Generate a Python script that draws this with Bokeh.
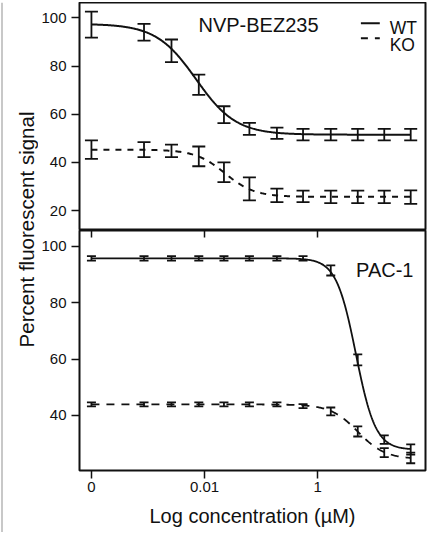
import math
import numpy as np
from bokeh.plotting import figure
from bokeh.models import (Range1d, FixedTicker, LinearAxis, Whisker, TeeHead,
                          ColumnDataSource, Label, Span, Arrow)
from bokeh.layouts import row, column
from bokeh.embed import file_html
from bokeh.resources import INLINE

# ---------------- data ----------------
conc_uM = [0, 0.00085, 0.0026, 0.0079, 0.022, 0.062, 0.19, 0.55, 1.7, 5.1, 15, 44]
zero_dose_position = 1e-4            # where the "0" dose is drawn on the log axis
x_tick_values = [1e-4, 1e-2, 1]
x_tick_labels = ["0", "0.01", "1"]

panel_titles = ["NVP-BEZ235", "PAC-1"]
series_names = ["WT", "KO"]

bez_wt_mean = [97.2, 94.0, 86.3, 72.2, 59.8, 53.9, 52.1, 51.5, 51.5, 51.5, 51.5, 51.5]
bez_wt_err = [5.4, 3.5, 4.7, 4.2, 3.5, 2.5, 2.3, 2.4, 2.4, 2.4, 2.4, 2.4]
bez_ko_mean = [45.3, 45.3, 44.8, 42.5, 35.9, 29.0, 26.3, 25.9, 25.7, 25.7, 25.7, 25.6]
bez_ko_err = [3.8, 3.1, 2.6, 4.1, 4.1, 4.8, 2.8, 2.4, 2.6, 2.6, 2.6, 2.8]

pac_wt_mean = [95.8, 95.8, 95.8, 95.8, 95.8, 95.8, 95.8, 95.8, 91.5, 59.7, 31.4, 27.9]
pac_wt_err = [0.8, 0.8, 0.8, 0.8, 0.8, 0.8, 0.8, 0.8, 1.8, 1.95, 1.5, 1.8]
pac_ko_mean = [43.9, 43.9, 43.9, 43.9, 43.9, 43.9, 43.9, 43.3, 41.4, 34.3, 26.8, 24.9]
pac_ko_err = [0.7, 0.7, 0.7, 0.7, 0.7, 0.7, 0.7, 0.7, 1.4, 1.8, 1.6, 1.9]

# fitted dose-response curves: [top, bottom, log10 IC50, Hill slope]
bez_wt_fit = [97.5, 51.5, -2.15, 1.23]
bez_ko_fit = [45.3, 25.7, -1.64, 1.65]
pac_wt_fit = [95.8, 27.8, 0.675, 2.5]
pac_ko_fit = [43.9, 24.5, 0.71, 1.8]

bez_y_ticks = [20, 40, 60, 80, 100]
pac_y_ticks = [40, 60, 80, 100]

y_label = "Percent fluorescent signal"
x_label = "Log concentration (µM)"

# ---------------- helpers ----------------
FONT = "Liberation Sans"
INK = "#111111"

logx = [math.log10(c) if c > 0 else math.log10(zero_dose_position) for c in conc_uM]
curve_x = np.linspace(logx[0], logx[-1], 400)


def four_pl(x, fit):
    top, bottom, log_ic50, hill = fit
    return bottom + (top - bottom) / (1.0 + 10.0 ** (hill * (x - log_ic50)))


X_RANGE = (-4.211, 1.905)
tick_pos = [int(round(math.log10(v))) for v in x_tick_values]
tick_over = {t: lab for t, lab in zip(tick_pos, x_tick_labels)}


def style_common(p, yticks):
    p.grid.visible = False
    p.outline_line_color = INK
    p.outline_line_width = 2
    p.background_fill_color = "white"
    p.border_fill_color = "white"
    ax = p.yaxis[0]
    ax.ticker = FixedTicker(ticks=yticks)
    ax.axis_line_color = None
    ax.major_tick_out = 8
    ax.major_tick_in = 0
    ax.minor_tick_line_color = None
    ax.major_tick_line_color = INK
    ax.major_tick_line_width = 1.5
    ax.major_label_standoff = 5
    ax.major_label_text_font = FONT
    ax.major_label_text_font_size = "15px"
    ax.major_label_text_color = INK


def add_panel(p, wt_mean, wt_err, ko_mean, ko_err, wt_fit, ko_fit, cap, dash, lw):
    p.line(curve_x, four_pl(curve_x, wt_fit), line_color=INK, line_width=lw)
    p.line(curve_x, four_pl(curve_x, ko_fit), line_color=INK, line_width=lw,
           line_dash=dash)
    for mean, err in ((wt_mean, wt_err), (ko_mean, ko_err)):
        src = ColumnDataSource(dict(
            x=logx,
            upper=[m + e for m, e in zip(mean, err)],
            lower=[m - e for m, e in zip(mean, err)],
        ))
        w = Whisker(source=src, base="x", upper="upper", lower="lower",
                    line_color=INK, line_width=1.8, level="glyph",
                    upper_head=TeeHead(size=cap, line_color=INK, line_width=1.8),
                    lower_head=TeeHead(size=cap, line_color=INK, line_width=1.8))
        p.add_layout(w)


# ---------------- top panel: NVP-BEZ235 ----------------
p1 = figure(width=395, height=228, x_range=Range1d(*X_RANGE),
            y_range=Range1d(11.74, 106.35), x_axis_location=None,
            toolbar_location=None, output_backend="svg",
            min_border_left=39, min_border_right=8, min_border_top=0, min_border_bottom=0)
style_common(p1, bez_y_ticks)
add_panel(p1, bez_wt_mean, bez_wt_err, bez_ko_mean, bez_ko_err,
          bez_wt_fit, bez_ko_fit, cap=13, dash="6 6", lw=2)
p1.add_layout(Label(x=-1.047, y=97.1, text=panel_titles[0], text_align="center",
                    text_baseline="alphabetic", text_font=FONT, text_font_size="20px",
                    text_color=INK))

# legend (key lines + labels) in the upper right corner of the top panel
key_x0, key_x1, label_x = 0.763, 1.097, 1.272
for name, key_y, text_y, dash in ((series_names[0], 97.76, 95.85, "solid"),
                                  (series_names[1], 91.54, 88.51, "7 7")):
    p1.add_layout(Arrow(end=None, x_start=key_x0, y_start=key_y, x_end=key_x1, y_end=key_y,
                        line_color=INK, line_width=2, line_dash=dash))
    p1.add_layout(Label(x=label_x, y=text_y, text=name, text_align="left",
                        text_baseline="alphabetic", text_font=FONT,
                        text_font_size="17.5px", text_color=INK))

# ---------------- bottom panel: PAC-1 ----------------
p2 = figure(width=395, height=300, x_range=p1.x_range,
            y_range=Range1d(20.43, 105.68), x_axis_location="below",
            toolbar_location=None, output_backend="svg",
            min_border_left=39, min_border_right=8, min_border_top=0, min_border_bottom=60)
style_common(p2, pac_y_ticks)
add_panel(p2, pac_wt_mean, pac_wt_err, pac_ko_mean, pac_ko_err,
          pac_wt_fit, pac_ko_fit, cap=9, dash="8 7", lw=1.8)
p2.add_layout(Label(x=1.185, y=91.5, text=panel_titles[1], text_align="center",
                    text_baseline="alphabetic", text_font=FONT, text_font_size="20px",
                    text_color=INK))

xa = p2.xaxis[0]
xa.ticker = FixedTicker(ticks=tick_pos)
xa.major_label_overrides = tick_over
xa.axis_line_color = None
xa.major_tick_out = 8
xa.major_tick_in = 0
xa.minor_tick_line_color = None
xa.major_tick_line_color = INK
xa.major_tick_line_width = 1.5
xa.major_label_standoff = 3
xa.major_label_text_font = FONT
xa.major_label_text_font_size = "15px"
xa.major_label_text_color = INK
xa.axis_label = x_label
xa.axis_label_standoff = 10
xa.axis_label_text_font = FONT
xa.axis_label_text_font_size = "20px"
xa.axis_label_text_font_style = "normal"
xa.axis_label_text_color = INK

# tick marks of the shared x-axis at the panel divider, pointing down
top_ax = LinearAxis(ticker=FixedTicker(ticks=tick_pos), major_tick_in=7, major_tick_out=0,
                    axis_line_color=None, minor_tick_line_color=None,
                    major_tick_line_color=INK, major_tick_line_width=1.5,
                    major_label_standoff=0, major_label_text_font_size="0px",
                    major_label_text_alpha=0)
p2.add_layout(top_ax, "above")

# ---------------- shared y-axis label (spans both panels) ----------------
pl = figure(width=38, height=530, x_range=Range1d(0, 38), y_range=Range1d(530, 0),
            x_axis_location=None, y_axis_location=None, toolbar_location=None,
            output_backend="svg", min_border=0)
pl.grid.visible = False
pl.outline_line_color = None
pl.border_fill_color = "white"
pl.add_layout(Span(location=1.5, dimension="height", line_color="#c8c8c8", line_width=2))
pl.add_layout(Label(x=25.5, y=227, text=y_label, angle=math.pi / 2, text_align="center",
                    text_baseline="middle", text_font=FONT, text_font_size="20.5px",
                    text_color=INK))

layout = row(pl, column(p1, p2), styles={"margin-top": "2px"})

open("out.html", "w").write(file_html(layout, INLINE))
